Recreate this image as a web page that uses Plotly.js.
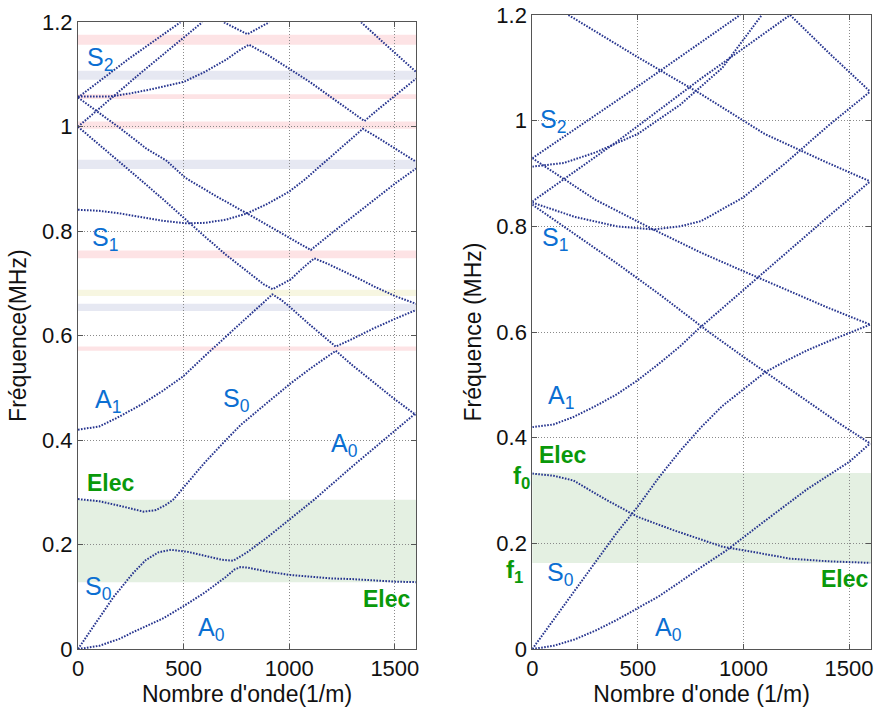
<!DOCTYPE html>
<html>
<head>
<meta charset="utf-8">
<script src="https://cdn.plot.ly/plotly-3.0.1.min.js"></script>
<style>html,body{margin:0;padding:0;background:#fff;}#chart{width:880px;height:708px;}</style>
</head>
<body>
<div id="chart"></div>
<script>
// ---------- LEFT PANEL DATA (wavenumber 1/m, frequency MHz) ----------
const L1_k = [0,100,200,264,400,500,600,700,740,770,800,900,1000,1100,1200,1292,1400,1500,1600];
const L1_f = [0,0.006,0.02,0.033,0.058,0.082,0.108,0.138,0.152,0.157,0.156,0.148,0.142,0.138,0.135,0.134,0.131,0.129,0.128];
const L2_k = [0,100,169,260,320,380,440,520,600,680,735,800,900,1000,1118,1300,1450,1600];
const L2_f = [0,0.06,0.10,0.145,0.17,0.185,0.19,0.186,0.178,0.171,0.169,0.185,0.215,0.247,0.286,0.35,0.401,0.452];
const L3_k = [0,100,200,310,370,420,451,504,600,700,770,900,1008,1100,1220,1300,1400,1500,1600];
const L3_f = [0.287,0.283,0.274,0.263,0.266,0.277,0.286,0.311,0.357,0.400,0.429,0.473,0.509,0.537,0.571,0.543,0.51,0.478,0.448];
const L4_k = [0,100,182,300,400,498,600,704,822,880,920,960,1000,1100,1220,1300,1400,1500,1600];
const L4_f = [0.42,0.426,0.442,0.468,0.494,0.522,0.561,0.600,0.643,0.664,0.679,0.669,0.656,0.62,0.579,0.594,0.614,0.632,0.649];
const L5_k = [0,100,166,300,400,514,600,700,822,880,922,960,1008,1060,1118,1180,1245,1320,1403,1500,1600];
const L5_f = [1.0,0.966,0.943,0.897,0.862,0.82,0.79,0.755,0.716,0.698,0.689,0.697,0.708,0.728,0.748,0.738,0.726,0.711,0.694,0.676,0.661];
const L6_k = [0,87,200,324,419,509,650,800,900,1000,1102,1200,1300,1400,1500,1600];
const L6_f = [1.056,1.03,0.997,0.958,0.935,0.902,0.868,0.834,0.811,0.788,0.764,0.796,0.828,0.86,0.891,0.92];
const L7_k = [0,100,200,300,400,514,600,700,800,900,1000,1071,1182,1250,1348,1420,1500,1600];
const L7_f = [0.841,0.839,0.834,0.827,0.82,0.815,0.816,0.822,0.834,0.853,0.876,0.898,0.937,0.96,0.996,0.979,0.958,0.933];
const L8_k = [0,80,153,250,350,501,600,700,770,810,900,1008,1100,1200,1300,1356,1420,1506,1600];
const L8_f = [1.058,1.058,1.058,1.064,1.072,1.086,1.105,1.128,1.148,1.157,1.137,1.109,1.085,1.056,1.027,1.011,1.033,1.062,1.092];
const L9_k = [691,750,802,850,905];
const L9_f = [1.2,1.187,1.177,1.188,1.2];
const L10_k = [0,240,485];
const L10_f = [1.056,1.13,1.2];
const L11_k = [0,288,588];
const L11_f = [1.0,1.1,1.2];
const L12_k = [1340,1470,1600];
const L12_f = [1.2,1.153,1.105];

// band-gap stripes (MHz): low / high edges
const L_green_band = [0.128, 0.286];
const L_pink_low  = [1.157, 1.053, 0.996, 0.748, 0.571];
const L_pink_high = [1.176, 1.062, 1.010, 0.763, 0.579];
const L_lav_low   = [1.090, 0.919, 0.647];
const L_lav_high  = [1.107, 0.937, 0.661];
const L_yel_low   = [0.676];
const L_yel_high  = [0.688];

// ---------- RIGHT PANEL DATA ----------
const R_A0_k = [0,100,200,300,400,500,600,700,800,921,1000,1100,1200,1300,1400,1500,1600];
const R_A0_f = [0,0.006,0.018,0.035,0.055,0.077,0.1,0.127,0.155,0.187,0.212,0.242,0.272,0.302,0.328,0.354,0.389];
const R_S0_k = [0,100,200,300,400,500,600,700,800,900,1000,1103,1200,1300,1400,1500,1600];
const R_S0_f = [0,0.055,0.11,0.165,0.22,0.27,0.325,0.375,0.42,0.46,0.492,0.524,0.545,0.565,0.582,0.598,0.614];
const R_El_k = [0,100,194,352,500,668,905,1000,1221,1400,1600];
const R_El_f = [0.332,0.328,0.319,0.282,0.25,0.225,0.193,0.187,0.171,0.166,0.163];
const R_A1_k = [0,100,194,300,400,500,600,700,779,900,1000,1200,1400,1600];
const R_A1_f = [0.42,0.425,0.439,0.46,0.482,0.509,0.54,0.573,0.603,0.645,0.68,0.75,0.818,0.885];
const R_A0b_k = [0,200,400,600,826,1000,1103,1300,1450,1600];
const R_A0b_f = [0.841,0.785,0.73,0.672,0.603,0.553,0.524,0.47,0.428,0.389];
const R_S0b_k = [0,147,300,573,800,1000,1200,1400,1600];
const R_S0b_f = [0.929,0.891,0.85,0.794,0.75,0.715,0.68,0.646,0.614];
const R_S1_k = [0,200,400,573,700,800,1000,1200,1400,1600];
const R_S1_f = [0.845,0.818,0.8,0.794,0.8,0.81,0.855,0.92,0.99,1.055];
const R_S1b_k = [1221,1400,1600];
const R_S1b_f = [1.2,1.13,1.055];
const R_A1b_k = [171,500,800,1100,1400,1600];
const R_A1b_f = [1.2,1.12,1.05,0.975,0.92,0.885];
const R_S2_k = [0,150,300,500,700,900,1087];
const R_S2_f = [0.913,0.92,0.94,0.975,1.03,1.1,1.2];
const R_A0c_k = [0,400,800,1221];
const R_A0c_f = [0.847,0.96,1.08,1.2];
const R_X_k = [0,500,984];
const R_X_f = [0.929,1.065,1.2];

const R_green_band = [0.163, 0.333];

// tick labels
const xTicks = [0,500,1000,1500];
const yTicks = [0,0.2,0.4,0.6,0.8,1,1.2];

// ---------- BUILD ----------
const curveColor = '#27358f';
const dotted = {color: curveColor, width: 2, dash: '1.6px,1.4px'};
function curve(k, f, ax) {
  return {x: k, y: f, type: 'scatter', mode: 'lines', line: dotted,
          xaxis: ax === 2 ? 'x2' : 'x', yaxis: ax === 2 ? 'y2' : 'y',
          hoverinfo: 'skip', showlegend: false, cliponaxis: true};
}
const traces = [
  curve(L1_k,L1_f,1), curve(L2_k,L2_f,1), curve(L3_k,L3_f,1), curve(L4_k,L4_f,1),
  curve(L5_k,L5_f,1), curve(L6_k,L6_f,1), curve(L7_k,L7_f,1), curve(L8_k,L8_f,1),
  curve(L9_k,L9_f,1), curve(L10_k,L10_f,1), curve(L11_k,L11_f,1), curve(L12_k,L12_f,1),
  curve(R_A0_k,R_A0_f,2), curve(R_S0_k,R_S0_f,2), curve(R_El_k,R_El_f,2), curve(R_A1_k,R_A1_f,2),
  curve(R_A0b_k,R_A0b_f,2), curve(R_S0b_k,R_S0b_f,2), curve(R_S1_k,R_S1_f,2), curve(R_S1b_k,R_S1b_f,2),
  curve(R_A1b_k,R_A1b_f,2), curve(R_S2_k,R_S2_f,2), curve(R_A0c_k,R_A0c_f,2), curve(R_X_k,R_X_f,2)
];

const shapes = [];
function band(lo, hi, color, ax) {
  shapes.push({type:'rect', xref: ax===2?'x2 domain':'x domain', yref: ax===2?'y2':'y',
    x0:0, x1:1, y0:lo, y1:hi, fillcolor:color, line:{width:0}, layer:'below'});
}
band(L_green_band[0], L_green_band[1], '#e4f0e2', 1);
L_pink_low.forEach((v,i)=>band(v, L_pink_high[i], '#fde3e5', 1));
L_lav_low.forEach((v,i)=>band(v, L_lav_high[i], '#e6e8f2', 1));
L_yel_low.forEach((v,i)=>band(v, L_yel_high[i], '#f7f6e1', 1));
band(R_green_band[0], R_green_band[1], '#e4f0e2', 2);

const FONT = 'Liberation Sans, Arial, Helvetica, sans-serif';
const blue = '#0b6fd2', green = '#0a990a';
function lab(text, x, y, ax, color, size, xanchor, bold, xpaper) {
  return {text: bold ? '<b>'+text+'</b>' : text, x:x, y:y,
    xref: xpaper ? 'paper' : (ax===2?'x2':'x'), yref: ax===2?'y2':'y',
    showarrow:false, xanchor: xanchor||'left', yanchor:'middle',
    font:{family:FONT, size:size, color:color}};
}
const annotations = [
  lab('S<sub>2</sub>', 35, 1.129, 1, blue, 25),
  lab('S<sub>1</sub>', 59, 0.785, 1, blue, 25),
  lab('A<sub>1</sub>', 71, 0.474, 1, blue, 25),
  lab('S<sub>0</sub>', 675, 0.477, 1, blue, 25),
  lab('A<sub>0</sub>', 1190, 0.391, 1, blue, 25),
  lab('Elec', 35, 0.317, 1, green, 23, 'left', true),
  lab('S<sub>0</sub>', 24, 0.116, 1, blue, 25),
  lab('Elec', 1587, 0.096, 1, green, 23, 'right', true),
  lab('A<sub>0</sub>', 557, 0.039, 1, blue, 25),
  lab('S<sub>2</sub>', 28, 0.999, 2, blue, 25),
  lab('S<sub>1</sub>', 36, 0.776, 2, blue, 25),
  lab('A<sub>1</sub>', 65, 0.477, 2, blue, 25),
  lab('Elec', 21, 0.367, 2, green, 23, 'left', true),
  lab('f<sub>0</sub>', 0.5462, 0.325, 2, green, 24, 'left', true, true),
  lab('f<sub>1</sub>', 0.5378, 0.146, 2, green, 24, 'left', true, true),
  lab('S<sub>0</sub>', 60, 0.142, 2, blue, 25),
  lab('Elec', 1604, 0.1325, 2, green, 23, 'right', true),
  lab('A<sub>0</sub>', 573, 0.038, 2, blue, 25)
];

function xax(domain, range, title) {
  return {domain: domain, range: range, tickvals: xTicks, ticktext: xTicks.map(String),
    showgrid: true, gridcolor: '#8a8a8a', griddash: '1px,2px', gridwidth: 1,
    zeroline: false, showline: true, linecolor: '#555', linewidth: 1, mirror: 'ticks',
    ticks: 'inside', ticklen: 5, tickcolor: '#555',
    tickfont: {family: FONT, size: 22, color: '#111'},
    title: {text: title, font: {family: FONT, size: 23, color: '#111'}, standoff: 5}};
}
function yax(domain, title) {
  return {domain: domain, range: [0, 1.2], tickvals: yTicks, ticktext: yTicks.map(String),
    showgrid: true, gridcolor: '#8a8a8a', griddash: '1px,2px', gridwidth: 1,
    zeroline: false, showline: true, linecolor: '#555', linewidth: 1, mirror: 'ticks',
    ticks: 'inside', ticklen: 5, tickcolor: '#555',
    tickfont: {family: FONT, size: 22, color: '#111'},
    title: {text: title, font: {family: FONT, size: 23, color: '#111'}, standoff: 8}};
}

const layout = {
  width: 880, height: 708,
  margin: {l: 78, r: 9, t: 15, b: 59, pad: 0},
  paper_bgcolor: '#fff', plot_bgcolor: '#fff',
  showlegend: false,
  xaxis: Object.assign(xax([0, 0.4262], [0, 1600], "Nombre d'onde(1/m)"), {anchor: 'y'}),
  yaxis: Object.assign(yax([0, 0.9885], 'Fréquence(MHz)'), {anchor: 'x'}),
  xaxis2: Object.assign(xax([0.5729, 1.0], [0, 1604], "Nombre d'onde (1/m)"), {anchor: 'y2'}),
  yaxis2: Object.assign(yax([0, 1.0], 'Fréquence (MHz)'), {anchor: 'x2'}),
  shapes: shapes,
  annotations: annotations
};

Plotly.newPlot('chart', traces, layout, {staticPlot: true, displayModeBar: false});
</script>
</body>
</html>
